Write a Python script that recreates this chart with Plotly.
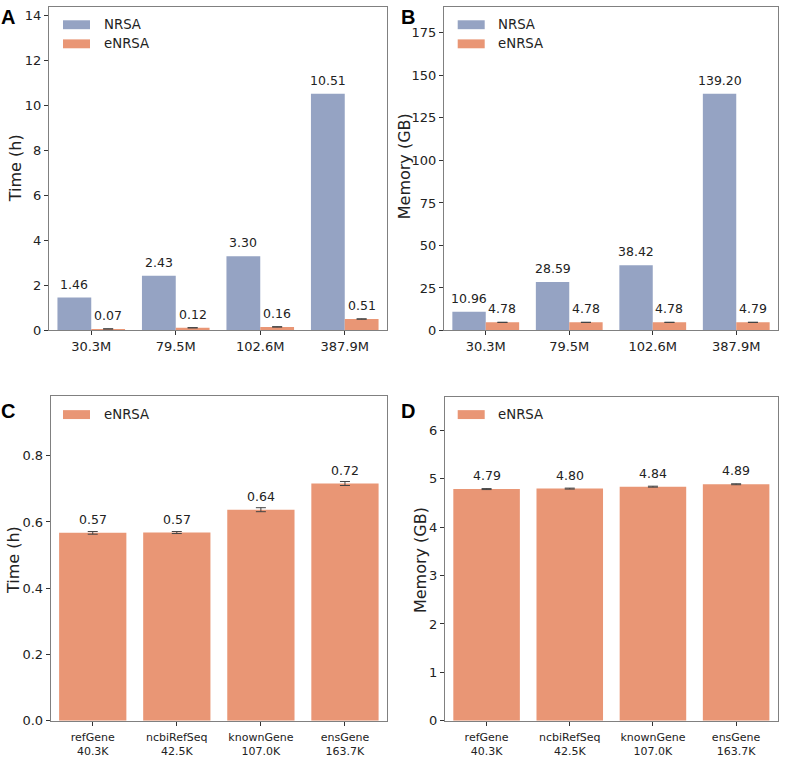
import plotly.graph_objects as go

W, H = 787, 762

# ---------------- data ----------------
sizes = ["30.3M", "79.5M", "102.6M", "387.9M"]
time_nrsa = [1.46, 2.43, 3.30, 10.51]
time_enrsa = [0.07, 0.12, 0.16, 0.51]
time_enrsa_err = [0.005, 0.008, 0.01, 0.01]
mem_nrsa = [10.96, 28.59, 38.42, 139.20]
mem_enrsa = [4.78, 4.78, 4.78, 4.79]
mem_enrsa_err = [0.08, 0.08, 0.08, 0.08]

annots = ["refGene<br>40.3K", "ncbiRefSeq<br>42.5K", "knownGene<br>107.0K", "ensGene<br>163.7K"]
annot_time = [0.567, 0.568, 0.637, 0.716]
annot_time_err = [0.004, 0.003, 0.006, 0.006]
annot_mem = [4.79, 4.80, 4.84, 4.89]
annot_mem_err = [0.01, 0.01, 0.01, 0.01]

BLUE = "#95A3C3"
ORANGE = "#E99675"
FONT = "DejaVu Sans"
TXT = "#222222"


def px(x):
    return x / W


def py(y):
    return 1 - y / H


fig = go.Figure()

err_style = dict(type="data", color="#444444", thickness=1, width=5)

# Panel A
fig.add_trace(go.Bar(x=sizes, y=time_nrsa, marker_color=BLUE, xaxis="x", yaxis="y",
                     offsetgroup="a", showlegend=False))
fig.add_trace(go.Bar(x=sizes, y=time_enrsa, marker_color=ORANGE, xaxis="x", yaxis="y",
                     offsetgroup="b", error_y=dict(array=time_enrsa_err, **err_style), showlegend=False))
# Panel B
fig.add_trace(go.Bar(x=sizes, y=mem_nrsa, marker_color=BLUE, xaxis="x2", yaxis="y2",
                     offsetgroup="a", showlegend=False))
fig.add_trace(go.Bar(x=sizes, y=mem_enrsa, marker_color=ORANGE, xaxis="x2", yaxis="y2",
                     offsetgroup="b", error_y=dict(array=mem_enrsa_err, **err_style), showlegend=False))
# Panel C
fig.add_trace(go.Bar(x=annots, y=annot_time, marker_color=ORANGE, xaxis="x3", yaxis="y3",
                     error_y=dict(array=annot_time_err, **err_style), showlegend=False))
# Panel D
fig.add_trace(go.Bar(x=annots, y=annot_mem, marker_color=ORANGE, xaxis="x4", yaxis="y4",
                     error_y=dict(array=annot_mem_err, **err_style), showlegend=False))

for tr in fig.data:
    tr.marker.line.width = 0

# panel geometry in pixels (left, right, top, bottom)
boxes = {
    "": (49, 387, 7, 334),
    "2": (444, 778, 7, 334),
    "3": (50.7, 387, 400.7, 728.3),
    "4": (445, 777.7, 401.7, 728.3),
}

FACTOR = 1.367
yinfo = {
    "": (max(time_nrsa) * FACTOR, [0, 2, 4, 6, 8, 10, 12, 14], None),
    "2": (max(mem_nrsa) * FACTOR, [0, 25, 50, 75, 100, 125, 150, 175], None),
    "3": (max(annot_time) * FACTOR, [0, 0.2, 0.4, 0.6, 0.8], ".1f"),
    "4": (max(annot_mem) * FACTOR, [0, 1, 2, 3, 4, 5, 6], None),
}

layout = dict(
    width=W, height=H, margin=dict(l=0, r=0, t=0, b=0),
    paper_bgcolor="white", plot_bgcolor="white",
    barmode="group", bargap=0.2, bargroupgap=0,
    font=dict(family=FONT, color=TXT, size=13),
)

for k, (l, r, t, b) in boxes.items():
    top_row = k in ("", "2")
    xsize = 13 if top_row else 11
    cats = sizes if top_row else annots
    xa = dict(
        domain=[px(l), px(r)], anchor="y" + k, type="category",
        categoryorder="array", categoryarray=cats, range=[-0.5, 3.5],
        showline=True, mirror=True, linecolor="#808080", linewidth=1,
        ticks="outside", ticklen=4, tickcolor="#333333", showgrid=False,
        tickfont=dict(size=xsize, family=FONT, color=TXT), fixedrange=True,
    )
    if not top_row:
        xa["ticklabelstandoff"] = 2
    layout["xaxis" + k] = xa
    top, tv, fmt = yinfo[k]
    ya = dict(
        domain=[py(b), py(t)], anchor="x" + k, range=[0, top],
        showline=True, mirror=True, linecolor="#808080", linewidth=1,
        ticks="outside", ticklen=4, tickcolor="#333333", showgrid=False,
        zeroline=False, tickvals=tv, tickfont=dict(size=13, family=FONT, color=TXT),
        fixedrange=True,
    )
    if fmt:
        ya["tickformat"] = fmt
    layout["yaxis" + k] = ya

fig.update_layout(**layout)

annotations = []
shapes = []

# bar value labels
def add_labels(vals, axis, offset):
    for i, v in enumerate(vals):
        annotations.append(dict(
            x=i + offset, y=v, xref="x" + axis, yref="y" + axis,
            text=f"{v:.2f}", showarrow=False, yanchor="middle", yshift=13.5,
            font=dict(size=12.5, family=FONT, color=TXT),
        ))

add_labels(time_nrsa, "", -0.2)
add_labels(time_enrsa, "", 0.2)
add_labels(mem_nrsa, "2", -0.2)
add_labels(mem_enrsa, "2", 0.2)
add_labels(annot_time, "3", 0)
add_labels(annot_mem, "4", 0)

# y-axis titles
for text, xc, yc in [("Time (h)", 15, 170), ("Memory (GB)", 404, 168),
                     ("Time (h)", 13, 566), ("Memory (GB)", 420, 566)]:
    annotations.append(dict(x=px(xc), y=py(yc), xref="paper", yref="paper", text=text,
                            textangle=-90, showarrow=False, xanchor="center", yanchor="middle",
                            font=dict(size=16, family=FONT, color=TXT)))

# panel letters
for text, xc, yc in [("A", 8, 17), ("B", 408, 17), ("C", 8, 415), ("D", 408, 415)]:
    annotations.append(dict(x=px(xc), y=py(yc), xref="paper", yref="paper",
                            text=f"<b>{text}</b>", showarrow=False, xanchor="center", yanchor="middle",
                            font=dict(size=20, family="Liberation Sans", color="black")))

# legends
legend_items = [
    (63, 101.7, 25, BLUE, "NRSA"), (63, 101.7, 44.3, ORANGE, "eNRSA"),
    (457.7, 496, 25, BLUE, "NRSA"), (457.7, 496, 44.3, ORANGE, "eNRSA"),
    (63, 101.7, 419, ORANGE, "eNRSA"), (457.7, 496, 419, ORANGE, "eNRSA"),
]
for x0, xt, yc, col, name in legend_items:
    shapes.append(dict(type="rect", xref="paper", yref="paper",
                       x0=px(x0), x1=px(x0 + 27), y0=py(yc + 4.5), y1=py(yc - 4.5),
                       fillcolor=col, line=dict(width=0)))
    annotations.append(dict(x=px(xt), y=py(yc), xref="paper", yref="paper", text=name,
                            showarrow=False, xanchor="left", yanchor="middle",
                            font=dict(size=13.3, family=FONT, color=TXT)))

fig.update_layout(annotations=annotations, shapes=shapes)

fig.write_html("out.html")
